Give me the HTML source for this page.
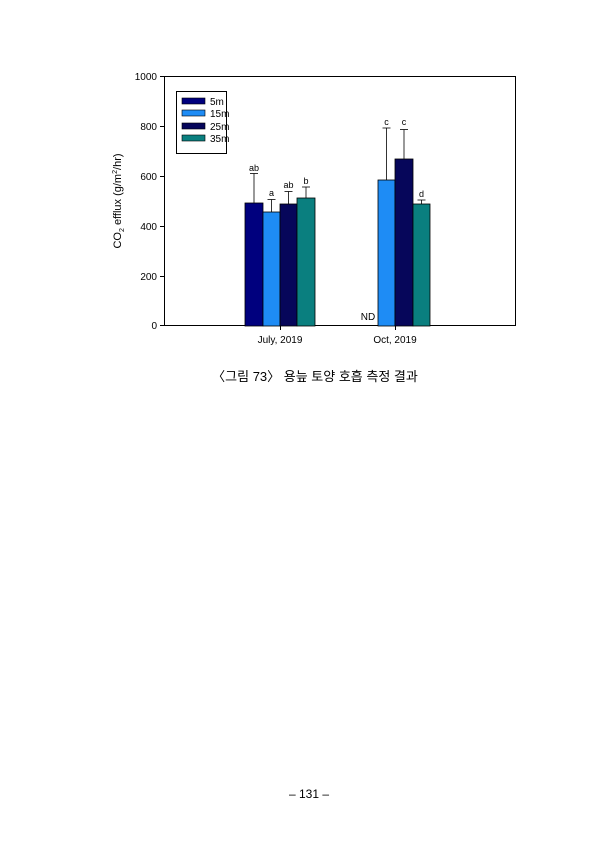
<!DOCTYPE html>
<html><head><meta charset="utf-8"><style>
body{margin:0;background:#fff;width:605px;height:840px;overflow:hidden}
svg text{font-family:"Liberation Sans",sans-serif;fill:#000}
</style></head><body>
<svg width="605" height="840" xmlns="http://www.w3.org/2000/svg">
<rect x="164.5" y="76.5" width="351" height="249" fill="none" stroke="#000" stroke-width="1"/>
<g stroke="#000" stroke-width="1">
<line x1="160" y1="76.5" x2="164" y2="76.5"/><line x1="160" y1="126.5" x2="164" y2="126.5"/>
<line x1="160" y1="176.5" x2="164" y2="176.5"/><line x1="160" y1="226.5" x2="164" y2="226.5"/>
<line x1="160" y1="276.5" x2="164" y2="276.5"/><line x1="160" y1="325.5" x2="164" y2="325.5"/>
<line x1="280.5" y1="326" x2="280.5" y2="330"/><line x1="395.5" y1="326" x2="395.5" y2="330"/>
</g>
<g font-size="10" text-anchor="end">
<text x="157" y="80">1000</text><text x="157" y="130">800</text><text x="157" y="180">600</text>
<text x="157" y="230">400</text><text x="157" y="280">200</text><text x="157" y="329">0</text>
</g>
<g font-size="10" text-anchor="middle"><text x="280" y="343">July, 2019</text><text x="395" y="343">Oct, 2019</text></g>
<text transform="translate(121,201) rotate(-90)" font-size="11" text-anchor="middle">CO<tspan font-size="7" dy="3">2</tspan><tspan dy="-3"> efflux (g/m</tspan><tspan font-size="7" dy="-4">2</tspan><tspan dy="4">/hr)</tspan></text>
<g stroke="#000" stroke-width="0.8">
<line x1="254" y1="203" x2="254" y2="173.5"/><line x1="250" y1="173.5" x2="258" y2="173.5"/>
<line x1="271.5" y1="212" x2="271.5" y2="199.5"/><line x1="267.5" y1="199.5" x2="275.5" y2="199.5"/>
<line x1="288.5" y1="204" x2="288.5" y2="191.5"/><line x1="284.5" y1="191.5" x2="292.5" y2="191.5"/>
<line x1="306" y1="198" x2="306" y2="187"/><line x1="302" y1="187" x2="310" y2="187"/>
<line x1="386.5" y1="180" x2="386.5" y2="128"/><line x1="382.5" y1="128" x2="390.5" y2="128"/>
<line x1="404" y1="159" x2="404" y2="129.5"/><line x1="400" y1="129.5" x2="408" y2="129.5"/>
<line x1="421.5" y1="204" x2="421.5" y2="200"/><line x1="417.5" y1="200" x2="425.5" y2="200"/>
</g>
<g stroke="#000" stroke-width="0.8">
<rect x="245" y="203" width="18" height="123" fill="#00007e"/>
<rect x="263" y="212" width="17" height="114" fill="#1e8cf5"/>
<rect x="280" y="204" width="17" height="122" fill="#06065a"/>
<rect x="297" y="198" width="18" height="128" fill="#0a7f7f"/>
<rect x="378" y="180" width="17" height="146" fill="#1e8cf5"/>
<rect x="395" y="159" width="18" height="167" fill="#06065a"/>
<rect x="413" y="204" width="17" height="122" fill="#0a7f7f"/>
</g>
<g font-size="9" text-anchor="middle">
<text x="254" y="171">ab</text><text x="271.5" y="196">a</text><text x="288.5" y="188">ab</text><text x="306" y="184">b</text>
<text x="386.5" y="125">c</text><text x="404" y="125">c</text><text x="421.5" y="197">d</text>
</g>
<text x="368" y="320" font-size="10" text-anchor="middle">ND</text>
<rect x="176.5" y="91.5" width="50" height="62" fill="#fff" stroke="#000"/>
<g stroke="#000" stroke-width="0.6">
<rect x="182" y="98" width="23" height="6" fill="#00007e"/>
<rect x="182" y="110" width="23" height="6" fill="#1e8cf5"/>
<rect x="182" y="123" width="23" height="6" fill="#06065a"/>
<rect x="182" y="135" width="23" height="6" fill="#0a7f7f"/>
</g>
<g font-size="10"><text x="210" y="105">5m</text><text x="210" y="117">15m</text><text x="210" y="130">25m</text><text x="210" y="142">35m</text></g>
<text x="315" y="381" font-size="13" text-anchor="middle" style="font-family:'Liberation Sans','Noto Sans CJK KR',sans-serif">〈그림 73〉 용늪 토양 호흡 측정 결과</text>
<text x="309" y="798" font-size="12" text-anchor="middle" style="font-family:'Liberation Sans','Noto Sans CJK KR',sans-serif">–  131  –</text>
</svg>
</body></html>
